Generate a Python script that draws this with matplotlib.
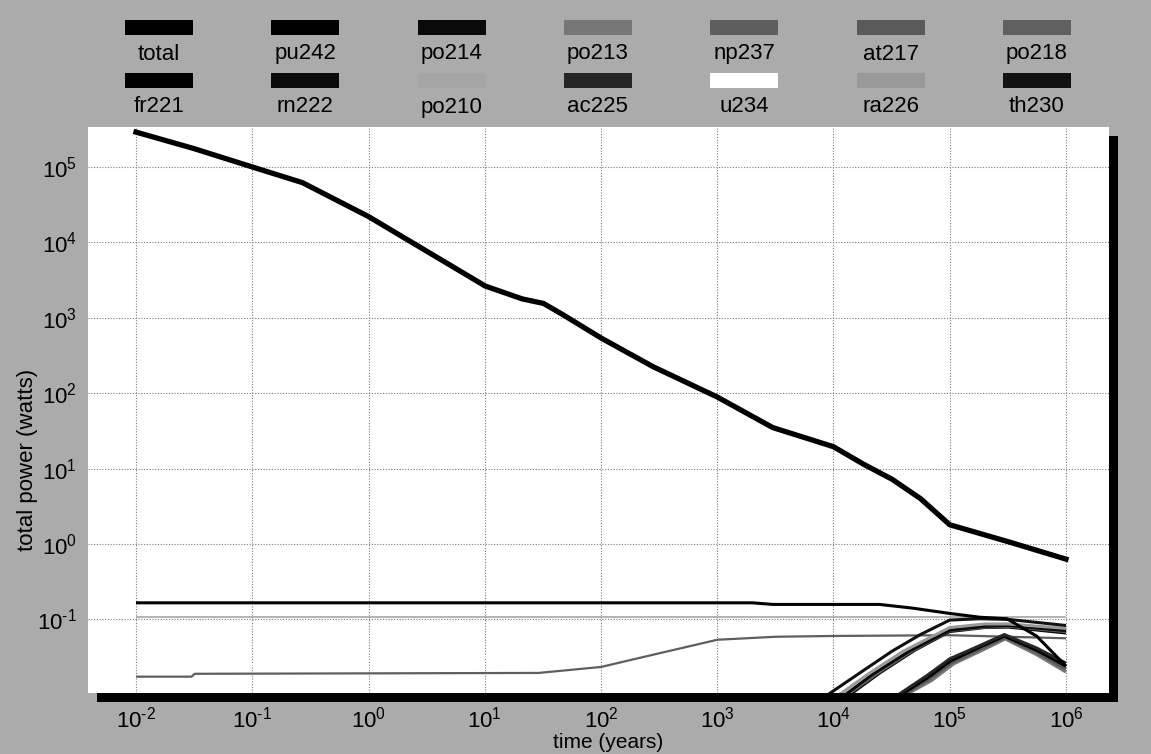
import matplotlib
matplotlib.use("Agg")
import matplotlib.pyplot as plt
from matplotlib.patches import Rectangle
from matplotlib.ticker import FixedLocator, NullLocator, FuncFormatter
import numpy as np

plt.rcParams['font.family'] = ['Liberation Sans', 'DejaVu Sans']
plt.rcParams['axes.unicode_minus'] = False

# ---- data (time in years, power in watts) ----
total_t = [0.01, 0.0316, 0.1, 0.27, 1, 9.1, 10, 21, 32, 47, 100, 280,
           1000, 3000, 1e4, 1.8e4, 3.2e4, 5.6e4, 1e5, 3.2e5, 1e6]
total_p = [2.9e5, 1.75e5, 1.0e5, 6.2e4, 2.2e4, 2.9e3, 2.65e3, 1.78e3,
           1.55e3, 1.1e3, 540, 225, 89, 35, 19.5, 11.5, 7.2, 4.0, 1.8, 1.07, 0.63]

pu242_t = [0.01, 1000, 2000, 3000, 1e4, 2.5e4, 4.8e4, 1e5, 1.8e5, 3.1e5, 5.6e5, 1e6]
pu242_p = [0.166, 0.166, 0.166, 0.158, 0.158, 0.158, 0.141, 0.120, 0.107, 0.102, 0.060, 0.024]

po210_t = [0.01, 1e6]
po210_p = [0.107, 0.107]

np237_t = [0.01, 0.03, 0.032, 29, 100, 316, 1000, 3200, 1e4, 1e5, 1e6]
np237_p = [0.0174, 0.0174, 0.019, 0.0195, 0.0234, 0.0355, 0.0537, 0.0589, 0.0603, 0.0617, 0.0562]

u234_t = [0.016, 12.6]
u234_p = [0.0234, 0.0316]

th230_t = [8900, 1.8e4, 3.2e4, 5.6e4, 1e5, 1.8e5, 3.2e5, 1e6]
th230_p = [0.0100, 0.0209, 0.038, 0.063, 0.098, 0.102, 0.100, 0.083]
ra226_t = [1.12e4, 2e4, 4e4, 1e5, 2e5, 3.2e5, 1e6]
ra226_p = [0.0100, 0.019, 0.038, 0.078, 0.087, 0.087, 0.076]
rn222_t = [1.26e4, 2.2e4, 4.5e4, 1e5, 2e5, 3.2e5, 1e6]
rn222_p = [0.0100, 0.019, 0.038, 0.072, 0.081, 0.083, 0.071]
po218_t = [1.32e4, 2.35e4, 4.7e4, 1e5, 2e5, 3.2e5, 1e6]
po218_p = [0.0100, 0.019, 0.038, 0.071, 0.079, 0.081, 0.069]
po214_t = [1.38e4, 2.5e4, 5e4, 1e5, 2e5, 3.2e5, 1e6]
po214_p = [0.0100, 0.0195, 0.039, 0.069, 0.078, 0.079, 0.066]

ac225_t = [3.6e4, 6.3e4, 1e5, 1.8e5, 2.95e5, 5.6e5, 1e6]
ac225_p = [0.0100, 0.0178, 0.030, 0.0447, 0.063, 0.0417, 0.0263]
fr221_t = [3.8e4, 6.5e4, 1.02e5, 1.8e5, 2.95e5, 5.6e5, 1e6]
fr221_p = [0.0100, 0.0170, 0.0282, 0.0427, 0.060, 0.039, 0.024]
at217_t = [4.0e4, 6.7e4, 1.05e5, 1.85e5, 3e5, 5.6e5, 1e6]
at217_p = [0.0100, 0.0162, 0.0269, 0.0407, 0.0575, 0.0363, 0.0219]
po213_t = [4.2e4, 7e4, 1.08e5, 1.9e5, 3e5, 5.6e5, 1e6]
po213_p = [0.0100, 0.0155, 0.0257, 0.0389, 0.055, 0.034, 0.020]

x_ticks = [1e-2, 1e-1, 1e0, 1e1, 1e2, 1e3, 1e4, 1e5, 1e6]
y_ticks = [1e-1, 1e0, 1e1, 1e2, 1e3, 1e4, 1e5]

legend_names = ['total', 'pu242', 'po214', 'po213', 'np237', 'at217', 'po218',
                'fr221', 'rn222', 'po210', 'ac225', 'u234', 'ra226', 'th230']

colors = {'total': '#000000', 'pu242': '#000000', 'po214': '#0a0a0a', 'po213': '#777777',
          'np237': '#5e5e5e', 'at217': '#5a5a5a', 'po218': '#606060', 'fr221': '#000000',
          'rn222': '#0a0a0a', 'po210': '#a5a5a5', 'ac225': '#262626', 'u234': '#ffffff',
          'ra226': '#999999', 'th230': '#111111'}

series = {'u234': (u234_t, u234_p), 'po210': (po210_t, po210_p), 'np237': (np237_t, np237_p),
          'po213': (po213_t, po213_p), 'at217': (at217_t, at217_p), 'fr221': (fr221_t, fr221_p),
          'ac225': (ac225_t, ac225_p), 'po214': (po214_t, po214_p), 'po218': (po218_t, po218_p),
          'rn222': (rn222_t, rn222_p), 'ra226': (ra226_t, ra226_p), 'th230': (th230_t, th230_p),
          'pu242': (pu242_t, pu242_p)}
widths = {'u234': 1.6, 'po210': 1.2, 'np237': 1.6}


def pow10(v, pos):
    e = int(round(np.log10(v)))
    s = str(e).replace('-', '\u2010')
    return '$\\mathdefault{10^{%s}}$' % s


W, H = 1151, 754
fig = plt.figure(figsize=(W / 100, H / 100), dpi=100)
fig.patch.set_facecolor('#ababab')

l, r, t, b = 88, 1109, 127, 693
ax = fig.add_axes([l / W, 1 - b / H, (r - l) / W, (b - t) / H])
ax.set_facecolor('white')

# black drop shadow right/bottom of the plot area
fig.add_artist(Rectangle(((l + 9) / W, 1 - (b + 9) / H), (r - l) / W, (b - t) / H,
                         transform=fig.transFigure, facecolor='black', edgecolor='none', zorder=-1))

for name, (tt, pp) in series.items():
    ax.plot(tt, pp, color=colors[name], lw=widths.get(name, 2.2), solid_capstyle='butt')
ax.plot(total_t, total_p, color=colors['total'], lw=3.8)

ax.set_xscale('log')
ax.set_yscale('log')
ax.set_xlim(10 ** -2.413, 10 ** 6.37)
ax.set_ylim(10 ** -1.976, 10 ** 5.53)
ax.xaxis.set_major_locator(FixedLocator(x_ticks))
ax.yaxis.set_major_locator(FixedLocator(y_ticks))
ax.xaxis.set_minor_locator(NullLocator())
ax.yaxis.set_minor_locator(NullLocator())
ax.xaxis.set_major_formatter(FuncFormatter(pow10))
ax.yaxis.set_major_formatter(FuncFormatter(pow10))
ax.grid(True, color='#7a7a7a', linestyle=(0, (1, 1.5)), linewidth=0.8)
ax.set_axisbelow(True)
for s in ax.spines.values():
    s.set_visible(False)
ax.tick_params(axis='x', length=0, labelsize=16, pad=10)
ax.tick_params(axis='y', length=0, labelsize=16, pad=8)

fig.text(28 / W, 1 - 460 / H, 'total power (watts)', rotation=90, ha='center', va='center', fontsize=16)
fig.text(608 / W, 1 - 752 / H, 'time (years)', ha='center', va='bottom', fontsize=15)

# legend: two rows of swatches with names underneath
for i, name in enumerate(legend_names):
    row, col = divmod(i, 7)
    cx = 159 + 146.3 * col
    sy = 20 + 53 * row
    fig.add_artist(Rectangle(((cx - 34) / W, 1 - (sy + 15) / H), 68 / W, 15 / H,
                             transform=fig.transFigure, facecolor=colors[name], edgecolor='none'))
    fig.text(cx / W, 1 - (sy + 34) / H, name, ha='center', va='center', fontsize=16)

fig.savefig('out.png', dpi=100, facecolor=fig.get_facecolor())
